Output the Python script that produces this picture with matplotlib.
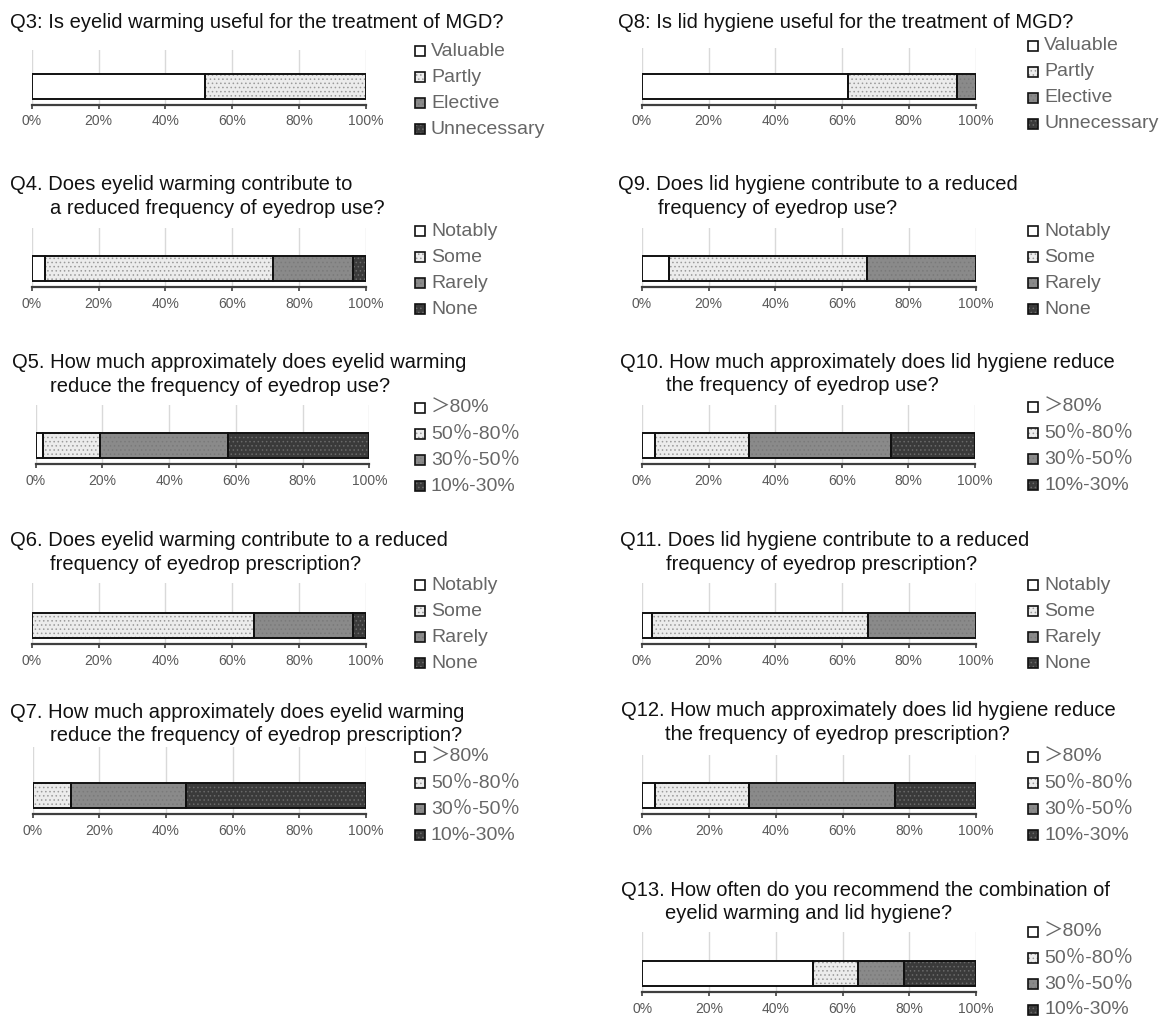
import matplotlib
matplotlib.use("Agg")
import matplotlib.pyplot as plt
from matplotlib.patches import Rectangle

# ---------------- data ----------------
titles = {
    "Q3": ["Q3: Is eyelid warming useful for the treatment of MGD?"],
    "Q4": ["Q4. Does eyelid warming contribute to", "a reduced frequency of eyedrop use?"],
    "Q5": ["Q5. How much approximately does eyelid warming", "reduce the frequency of eyedrop use?"],
    "Q6": ["Q6. Does eyelid warming contribute to a reduced", "frequency of eyedrop prescription?"],
    "Q7": ["Q7. How much approximately does eyelid warming", "reduce the frequency of eyedrop prescription?"],
    "Q8": ["Q8: Is lid hygiene useful for the treatment of MGD?"],
    "Q9": ["Q9. Does lid hygiene contribute to a reduced", "frequency of eyedrop use?"],
    "Q10": ["Q10. How much approximately does lid hygiene reduce", "the frequency of eyedrop use?"],
    "Q11": ["Q11. Does lid hygiene contribute to a reduced", "frequency of eyedrop prescription?"],
    "Q12": ["Q12. How much approximately does lid hygiene reduce", "the frequency of eyedrop prescription?"],
    "Q13": ["Q13. How often do you recommend the combination of", "eyelid warming and lid hygiene?"],
}

labels_useful = ["Valuable", "Partly", "Elective", "Unnecessary"]
labels_contrib = ["Notably", "Some", "Rarely", "None"]
labels_amount = ["\uff1e80%", "50\uff05-80\uff05", "30\uff05-50\uff05", "10%-30%"]

q3 = [51.8, 48.2, 0.0, 0.0]
q4 = [3.8, 68.3, 24.0, 3.9]
q5 = [2.1, 17.3, 38.3, 42.3]
q6 = [0.0, 66.5, 29.6, 3.9]
q7 = [0.0, 11.5, 34.5, 54.0]
q8 = [61.8, 32.6, 5.6, 0.0]
q9 = [8.2, 59.3, 32.5, 0.0]
q10 = [3.8, 28.3, 42.8, 25.1]
q11 = [2.9, 64.8, 32.3, 0.0]
q12 = [3.9, 28.1, 43.8, 24.2]
q13 = [51.2, 13.3, 13.9, 21.6]

ticks = [0, 20, 40, 60, 80, 100]
tick_labels = ["0%", "20%", "40%", "60%", "80%", "100%"]

# ---------------- styles / layout (pixels) ----------------
W, H = 1162, 1019
FACE = ["#ffffff", "#ececec", "#8a8a8a", "#3a3a3a"]
HATCHC = ["#ffffff", "#9a9a9a", "#7a7a7a", "#6a6a6a"]
HATCH = [None, "....", "....", "...."]
TXT_FONT = ["Liberation Sans", "Noto Sans CJK JP", "DejaVu Sans"]

# name: (data, labels, x0, x1, grid_top, axis_y, title_x, title_y1, indent, legend_x, legend_y0)
panels = {
    "Q3": (q3, labels_useful, 32, 365.7, 50, 104.5, 10, 22, 0, 415, 51),
    "Q4": (q4, labels_contrib, 32, 365.7, 228, 287, 10, 185, 40, 415, 231),
    "Q5": (q5, labels_amount, 35.7, 369.3, 405, 464, 12, 363, 38, 415, 408),
    "Q6": (q6, labels_contrib, 32, 365.7, 583, 644, 10, 541, 40, 415, 585),
    "Q7": (q7, labels_amount, 32.7, 366, 747, 814, 10, 712, 40, 415, 757),
    "Q8": (q8, labels_useful, 642, 975.5, 48, 104.5, 618, 22, 0, 1028, 46),
    "Q9": (q9, labels_contrib, 642, 975.5, 228, 287, 618, 185, 40, 1028, 231),
    "Q10": (q10, labels_amount, 642, 975, 405, 464, 620, 362, 46, 1028, 407),
    "Q11": (q11, labels_contrib, 642, 975.5, 583, 644, 620, 541, 46, 1028, 585),
    "Q12": (q12, labels_amount, 642.3, 976, 755, 814, 621, 711, 44, 1028, 757),
    "Q13": (q13, labels_amount, 642.3, 976, 932, 992, 621, 890, 44, 1028, 932),
}

plt.rcParams["font.family"] = TXT_FONT
plt.rcParams["hatch.linewidth"] = 0.6

fig = plt.figure(figsize=(W / 100, H / 100), dpi=100)
fig.patch.set_facecolor("white")

BAR_H_PX = 25.0
GAP_PX = 6.0
TITLE_FS = 14.5

for name, (vals, labs, x0, x1, gtop, axy, tx, ty, indent, lx, ly) in panels.items():
    ax = fig.add_axes([x0 / W, 1 - axy / H, (x1 - x0) / W, (axy - gtop) / H])
    ylo = -0.5 - GAP_PX / BAR_H_PX
    ax.set_ylim(ylo, ylo + (axy - gtop) / BAR_H_PX)
    ax.set_xlim(0, 100)
    left = 0.0
    for i, v in enumerate(vals):
        if v > 0:
            ax.barh(0, v, left=left, height=1, color=FACE[i], hatch=HATCH[i],
                    edgecolor=HATCHC[i], linewidth=0, zorder=3)
            ax.barh(0, v, left=left, height=1, fill=False, edgecolor="#111111",
                    linewidth=1.4, zorder=4)
        left += v
    ax.set_xticks(ticks)
    ax.set_xticklabels(tick_labels)
    ax.set_yticks([])
    ax.grid(axis="x", color="#d9d9d9", linewidth=1.0, zorder=0)
    for s in ["top", "left", "right"]:
        ax.spines[s].set_visible(False)
    ax.spines["bottom"].set_color("#3f3f3f")
    ax.spines["bottom"].set_linewidth(1.6)
    ax.spines["bottom"].set_zorder(5)
    ax.tick_params(axis="x", direction="out", length=3, width=1.2, color="#3f3f3f",
                   pad=4, labelsize=10, labelcolor="#595959")
    ax.set_facecolor("none")

    fig.text(tx / W, 1 - ty / H, titles[name][0], fontsize=TITLE_FS, color="#111111",
             ha="left", va="center")
    if len(titles[name]) > 1:
        fig.text((tx + indent) / W, 1 - (ty + 23.5) / H, titles[name][1], fontsize=TITLE_FS,
                 color="#111111", ha="left", va="center")

    for i, lab in enumerate(labs):
        yc = ly + 26.0 * i
        sq = 10.0
        r = Rectangle((lx / W, 1 - (yc + sq / 2) / H), sq / W, sq / H,
                      transform=fig.transFigure, facecolor=FACE[i], hatch=HATCH[i],
                      edgecolor=HATCHC[i], linewidth=0)
        fig.add_artist(r)
        r2 = Rectangle((lx / W, 1 - (yc + sq / 2) / H), sq / W, sq / H,
                       transform=fig.transFigure, fill=False, edgecolor="#111111",
                       linewidth=1.2)
        fig.add_artist(r2)
        fig.text((lx + sq + 6) / W, 1 - yc / H, lab, fontsize=14, color="#666666",
                 ha="left", va="center")

fig.savefig("out.png", dpi=100, facecolor="white")
